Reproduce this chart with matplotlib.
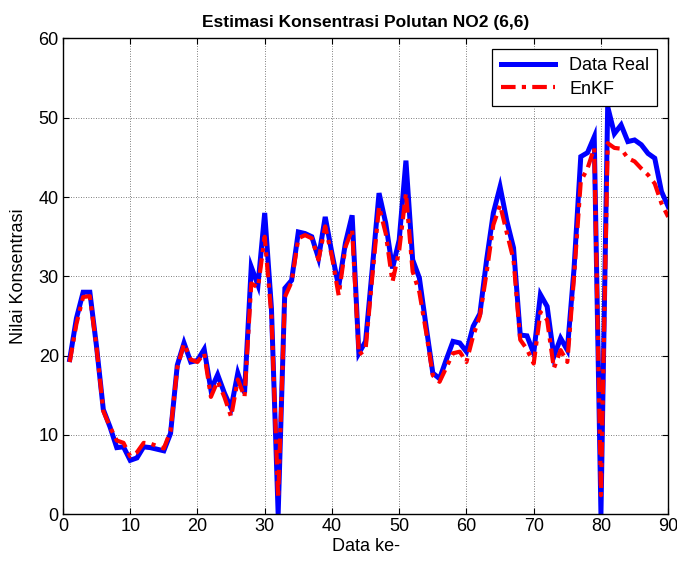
import matplotlib
matplotlib.use("Agg")
import matplotlib.pyplot as plt
import numpy as np

data_idx = list(range(1, 91))
data_real = [19.5, 24.7, 28.0, 28.0, 21.1, 13.2, 11.0, 8.4, 8.5, 6.8,
             7.1, 8.5, 8.4, 8.2, 8.0, 10.2, 18.8, 21.6, 19.2, 19.4,
             20.8, 15.7, 17.6, 15.3, 13.4, 17.8, 15.3, 31.2, 28.9, 38.0,
             26.0, 0.0, 28.5, 29.5, 35.6, 35.4, 35.0, 32.3, 37.5, 32.9,
             28.7, 34.2, 37.7, 20.3, 21.8, 31.0, 40.5, 36.7, 31.0, 34.6,
             44.6, 32.1, 29.8, 23.7, 17.8, 17.1, 19.5, 21.8, 21.6, 20.5,
             23.7, 25.3, 32.1, 38.0, 41.3, 37.0, 33.6, 22.6, 22.5, 20.3,
             27.7, 26.2, 19.9, 22.2, 20.7, 31.0, 45.1, 45.6, 47.6, 0.0,
             51.4, 48.0, 49.1, 47.0, 47.2, 46.6, 45.5, 44.9, 40.7, 38.8]
enkf = [19.2, 24.0, 27.4, 27.5, 21.0, 13.0, 11.0, 9.3, 9.0, 7.3,
        7.8, 9.0, 8.9, 8.6, 8.3, 10.5, 18.5, 21.5, 19.5, 19.2,
        20.3, 14.8, 16.8, 14.8, 12.3, 17.0, 14.8, 29.1, 28.6, 35.0,
        25.0, 2.0, 27.4, 29.3, 34.8, 35.2, 34.8, 32.1, 36.3, 32.5,
        27.6, 33.7, 35.9, 20.1, 20.8, 30.0, 38.8, 35.4, 29.3, 33.3,
        40.5, 30.6, 28.0, 23.0, 17.5, 16.7, 18.5, 20.3, 20.5, 19.2,
        22.5, 25.0, 30.5, 36.5, 39.0, 35.5, 32.1, 22.0, 20.8, 19.0,
        25.5, 24.5, 18.4, 20.7, 19.2, 30.0, 42.0, 43.6, 46.2, 2.4,
        46.8, 46.2, 46.1, 44.9, 44.5, 43.6, 42.8, 41.7, 39.2, 37.5]

title = "Estimasi Konsentrasi Polutan NO2 (6,6)"
xlabel = "Data ke-"
ylabel = "Nilai Konsentrasi"
xticks = list(range(0, 91, 10))
yticks = list(range(0, 61, 10))

plt.rcParams['font.family'] = ['Liberation Sans Narrow', 'Liberation Sans', 'DejaVu Sans']

fig = plt.figure(figsize=(6.77, 5.62), dpi=100)
ax = fig.add_axes([0.093, 0.085, 0.894, 0.8465])

ax.plot(data_idx, data_real, color='#0000ff', lw=3.6, solid_joinstyle='miter', label='Data Real')
ax.plot(data_idx, enkf, color='#ff0000', lw=3.0, linestyle=(0, (3.5, 1.5, 1, 1.5)), label='EnKF')

ax.set_xlim(0, 90)
ax.set_ylim(0, 60)
ax.set_xticks(xticks)
ax.set_yticks(yticks)
ax.tick_params(direction='in', top=True, right=True, labelsize=13, length=4, width=0.8, pad=3)
ax.grid(True, color='#555555', linestyle=(0, (1, 2)), linewidth=0.6)
for s in ax.spines.values():
    s.set_linewidth(1.0)

ax.set_title(title, fontsize=12.5, fontweight='bold', pad=8)
ax.set_xlabel(xlabel, fontsize=13, labelpad=2)
ax.set_ylabel(ylabel, fontsize=13, labelpad=8)

leg = ax.legend(loc='upper right', fontsize=13, frameon=True, fancybox=False,
                edgecolor='black', framealpha=1, handlelength=3.0,
                borderaxespad=0.6, borderpad=0.45, labelspacing=0.35)
leg.get_frame().set_linewidth(0.9)

fig.savefig('out.png', dpi=100)
